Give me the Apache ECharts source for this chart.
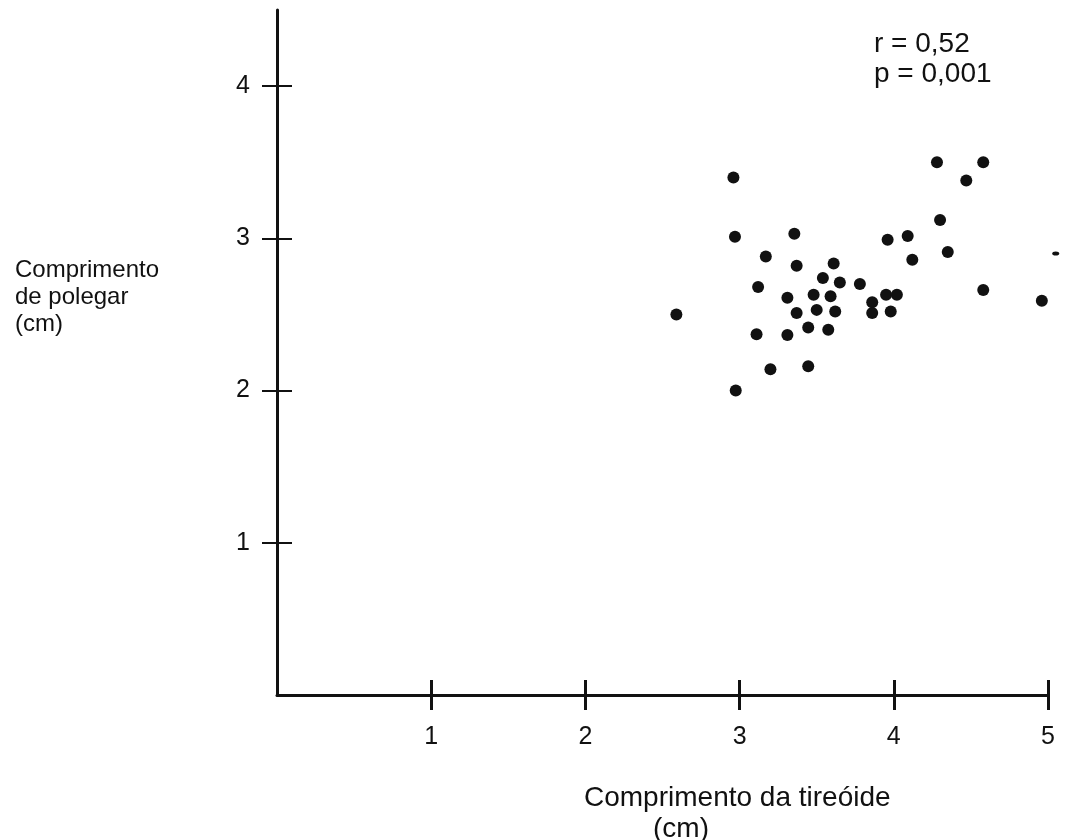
<!DOCTYPE html>
<html>
<head>
<meta charset="utf-8">
<script src="https://cdn.jsdelivr.net/npm/echarts@6/dist/echarts.min.js"></script>
<style>html,body{margin:0;padding:0;background:#fff;}#c{width:1066px;height:840px;}</style>
</head>
<body>
<div id="c"></div>
<script>
// Data
const thyroidLength = [2.96, 2.97, 3.355, 3.17, 3.37, 3.61, 3.54, 3.65, 3.78, 3.12,
  2.59, 3.31, 3.48, 3.59, 3.37, 3.50, 3.62, 3.11, 3.31, 3.445,
  3.575, 3.20, 3.445, 2.975, 4.30, 3.96, 4.09, 4.12, 4.35, 3.95,
  4.02, 3.86, 3.86, 3.98, 4.58, 4.96, 4.28, 4.58, 4.47];
const thumbLength = [3.40, 3.01, 3.03, 2.88, 2.82, 2.835, 2.74, 2.71, 2.70, 2.68,
  2.50, 2.61, 2.63, 2.62, 2.51, 2.53, 2.52, 2.37, 2.365, 2.415,
  2.40, 2.14, 2.16, 2.00, 3.12, 2.99, 3.015, 2.86, 2.91, 2.63,
  2.63, 2.58, 2.51, 2.52, 2.66, 2.59, 3.50, 3.50, 3.38];
const edgeDotX = [5.05];
const edgeDotY = [2.90];
const xTicks = [1, 2, 3, 4, 5];
const yTicks = [1, 2, 3, 4];
const annotation = ['r = 0,52', 'p = 0,001'];
const yTitle = ['Comprimento', 'de polegar', '(cm)'];
const xTitle = 'Comprimento da tireóide';
const xTitleUnit = '(cm)';

const ink = '#111111';
const font = 'Liberation Sans, Arial, sans-serif';

const points = thyroidLength.map((x, i) => [x, thumbLength[i]]);
const edgePoints = edgeDotX.map((x, i) => [x, edgeDotY[i]]);

function xAx(inside, main) {
  return {
    type: 'value', position: 'bottom', min: 0, max: 5, interval: 1,
    splitLine: {show: false},
    axisLine: {show: main, onZero: false, lineStyle: {color: ink, width: 3}},
    axisTick: {show: true, inside: inside, length: 15, customValues: xTicks, lineStyle: {color: ink, width: 3}},
    axisLabel: {show: main, customValues: xTicks, margin: 30, color: ink, fontSize: 25, fontFamily: font}
  };
}
function yAx(inside, main) {
  return {
    type: 'value', position: 'left', min: 0, max: 4.5, interval: 0.5,
    splitLine: {show: false},
    axisLine: {show: main, onZero: false, lineStyle: {color: ink, width: 3}},
    axisTick: {show: true, inside: inside, length: 15, customValues: yTicks, lineStyle: {color: ink, width: 2}},
    axisLabel: {show: main, customValues: yTicks, margin: 27, color: ink, fontSize: 25, fontFamily: font}
  };
}

const chart = echarts.init(document.getElementById('c'), null, {renderer: 'canvas'});
chart.setOption({
  backgroundColor: '#ffffff',
  animation: false,
  grid: {left: 277, top: 10, right: 18, bottom: 145, containLabel: false},
  xAxis: [xAx(false, true), xAx(true, false)],
  yAxis: [yAx(false, true), yAx(true, false)],
  series: [
    {type: 'scatter', xAxisIndex: 0, yAxisIndex: 0, data: points, symbolSize: 12,
     itemStyle: {color: ink, opacity: 1}, clip: false},
    {type: 'scatter', xAxisIndex: 0, yAxisIndex: 0, data: edgePoints, symbol: 'circle', symbolSize: [7, 4],
     itemStyle: {color: ink, opacity: 1}, clip: false}
  ],
  graphic: [
    {type: 'text', left: 874, top: 29, style: {text: annotation.join('\n'), fill: ink, font: '28px ' + font, lineHeight: 30}},
    {type: 'text', left: 15, top: 257, style: {text: yTitle.join('\n'), fill: ink, font: '24px ' + font, lineHeight: 27}},
    {type: 'text', left: 584, top: 784, style: {text: xTitle, fill: ink, font: '28px ' + font}},
    {type: 'text', left: 653, top: 815, style: {text: xTitleUnit, fill: ink, font: '28px ' + font}}
  ]
});
</script>
</body>
</html>
